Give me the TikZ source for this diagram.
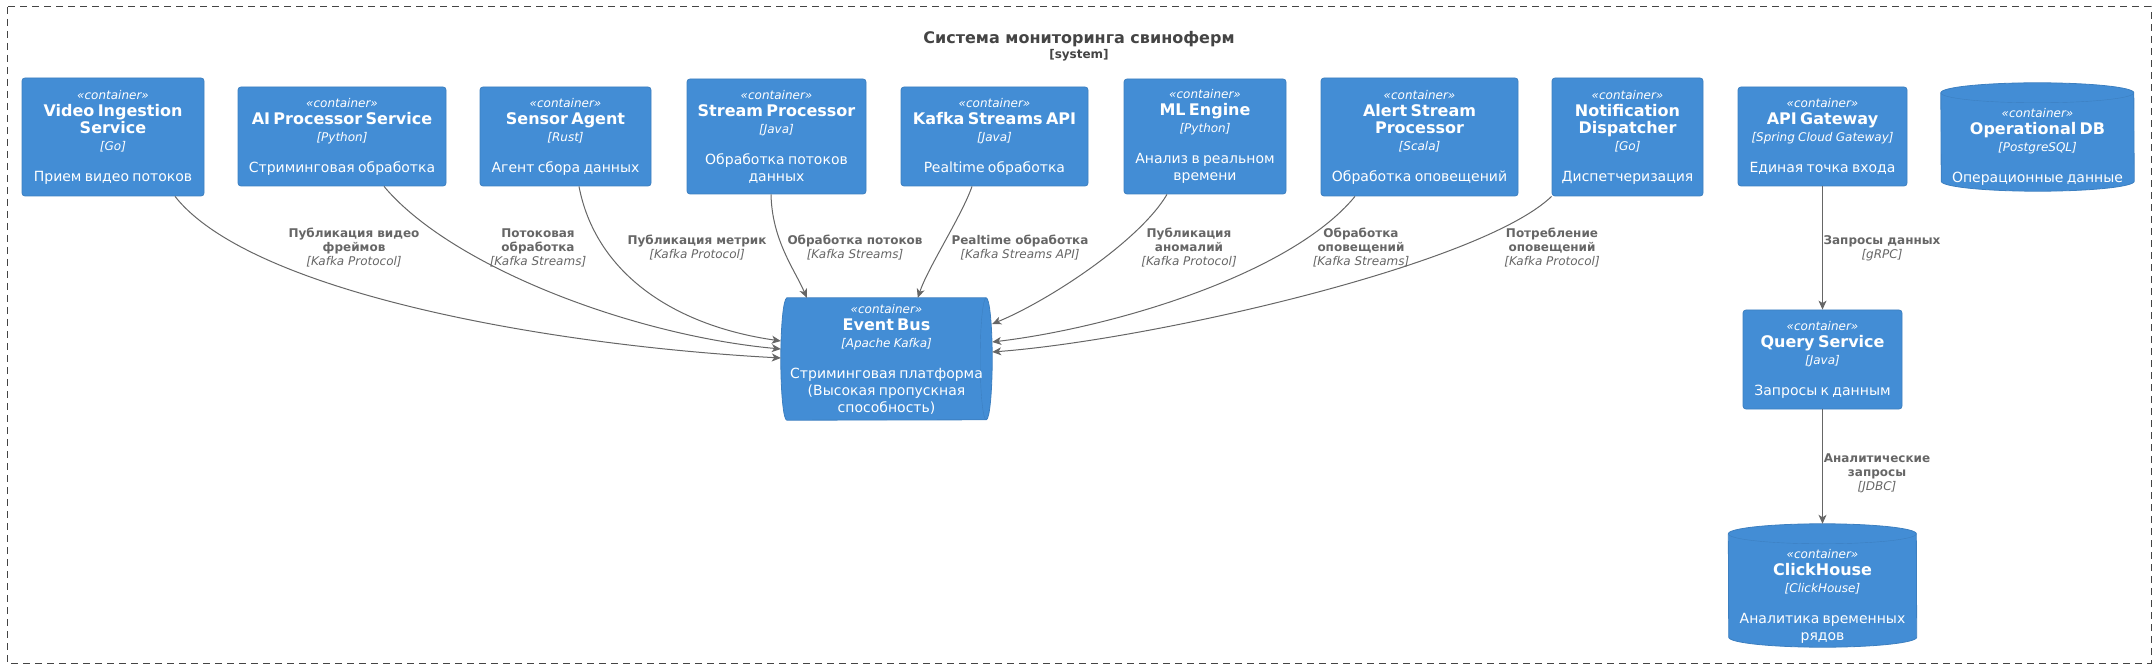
\documentclass[tikz,border=0pt]{standalone}
\usepackage{fontspec}
\setmainfont{DejaVu Sans}
\usetikzlibrary{arrows.meta}
\usetikzlibrary{backgrounds}
\usetikzlibrary{calc}
\usetikzlibrary{positioning}

\definecolor{c4blue}{HTML}{438DD5}
\definecolor{c4line}{HTML}{3C7FC0}
\definecolor{relgray}{HTML}{666666}
\definecolor{bndgray}{HTML}{444444}

% text of one container: title, technology, description
\newcommand{\ctext}[3]{%
  \parindent=0pt
  {\fontsize{12}{14}\selectfont\itshape «container»\par}%
  {\fontsize{16}{17}\selectfont\bfseries #1\par}%
  {\fontsize{12}{17}\selectfont\itshape [#2]\par}%
  \vspace{14pt}%
  {\fontsize{14}{17}\selectfont #3\par}}

\tikzset{
  cbox/.style={align=center, inner sep=0pt, text=white},
  cont/.style={cbox, fill=c4blue, draw=c4line, line width=0.8pt, rounded corners=3pt},
  shapefill/.style={fill=c4blue, draw=c4line, line width=0.8pt},
  rel/.style={draw=relgray, line width=1pt, -{Stealth[length=9pt,width=8pt,inset=2.5pt]}},
  rlabel/.style={align=center, inner sep=0pt, text=relgray, font=\fontsize{12}{14}\selectfont}
}

\begin{document}
\begin{tikzpicture}[x=1pt, y=1pt]
  \useasboundingbox (0,0) rectangle (2155,-668);

  % system boundary
  \draw[bndgray, line width=1pt, dash pattern=on 7pt off 5pt] (7,-7) rectangle (2151,-663);
  \node[inner sep=0pt, text=bndgray, font=\fontsize{16}{19}\selectfont\bfseries] (systitle) at (1079,-39) {Система мониторинга свиноферм};
  \node[inner sep=0pt, text=bndgray, font=\fontsize{12}{14}\selectfont\bfseries, below=2pt of systitle] (systype) {[system]};

  % top row
  \node[cont, text width=182pt, minimum height=118pt] (video) at (113,-137) {\ctext{Video Ingestion\\Service}{Go}{Прием видео потоков}};
  \node[cont, text width=208pt, minimum height=99pt] (aiproc) at (342,-136.5) {\ctext{AI Processor Service}{Python}{Стриминговая обработка}};
  \node[cont, text width=171pt, minimum height=99pt] (sensor) at (565.5,-136.5) {\ctext{Sensor Agent}{Rust}{Агент сбора данных}};
  \node[cont, text width=179pt, minimum height=115pt] (stream) at (776.5,-136.5) {\ctext{Stream Processor}{Java}{Обработка потоков\\данных}};
  \node[cont, text width=187pt, minimum height=99pt] (kstreams) at (994.5,-136.5) {\ctext{Kafka Streams API}{Java}{Pealtime обработка}};
  \node[cont, text width=162pt, minimum height=115pt] (mleng) at (1205,-136.5) {\ctext{ML Engine}{Python}{Анализ в реальном\\времени}};
  \node[cont, text width=197pt, minimum height=118pt] (alert) at (1419.5,-137) {\ctext{Alert Stream\\Processor}{Scala}{Обработка оповещений}};
  \node[cont, text width=151pt, minimum height=118pt] (notify) at (1627.5,-137) {\ctext{Notification\\Dispatcher}{Go}{Диспетчеризация}};
  \node[cont, text width=169pt, minimum height=99pt] (gateway) at (1822.5,-136.5) {\ctext{API Gateway}{Spring Cloud Gateway}{Единая точка входа}};
  \node[cbox, minimum width=193pt, minimum height=108pt] (opdb) at (2037.5,-137) {};
  \node[cbox, text width=193pt] (opdbtext) at ($(opdb.center)+(0,-9.5)$) {\ctext{Operational DB}{PostgreSQL}{Операционные данные}};

  % lower nodes
  \node[cbox, text width=211pt, minimum height=122pt] (evbus) at (886.5,-359) {\ctext{Event Bus}{Apache Kafka}{Стриминговая платформа\\(Высокая пропускная\\способность)}};
  \node[cont, text width=159pt, minimum height=99pt] (query) at (1822.5,-359.5) {\ctext{Query Service}{Java}{Запросы к данным}};
  \node[cbox, minimum width=188pt, minimum height=123pt] (chouse) at (1822.5,-585.5) {};
  \node[cbox, text width=188pt] (chousetext) at ($(chouse.center)+(0,-10.5)$) {\ctext{ClickHouse}{ClickHouse}{Аналитика временных\\рядов}};

  % queue and database shapes
  \begin{scope}[on background layer]
    \path[shapefill] ($(evbus.north west)+(6,0)$) -- ($(evbus.north east)+(-6,0)$)
      arc[start angle=90, end angle=-90, x radius=6, y radius=61]
      -- ($(evbus.south west)+(6,0)$)
      arc[start angle=270, end angle=90, x radius=6, y radius=61] -- cycle;
    \draw[c4line] ($(evbus.north east)+(-6,0)$) arc[start angle=90, end angle=270, x radius=6, y radius=61];

    \path[shapefill] ($(opdb.north west)+(0,-10)$)
      arc[start angle=180, end angle=0, x radius=96.5, y radius=10]
      -- ($(opdb.south east)+(0,10)$)
      arc[start angle=0, end angle=-180, x radius=96.5, y radius=10] -- cycle;
    \draw[c4line] ($(opdb.north west)+(0,-10)$) arc[start angle=180, end angle=360, x radius=96.5, y radius=10];

    \path[shapefill] ($(chouse.north west)+(0,-10)$)
      arc[start angle=180, end angle=0, x radius=94, y radius=10]
      -- ($(chouse.south east)+(0,10)$)
      arc[start angle=0, end angle=-180, x radius=94, y radius=10] -- cycle;
    \draw[c4line] ($(chouse.north west)+(0,-10)$) arc[start angle=180, end angle=360, x radius=94, y radius=10];
  \end{scope}

  % relations into the event bus
  \draw[rel] ($(video.south)+(62,0)$) .. controls +(75,-95) and +(-239,13) .. ($(evbus.west)+(0,1)$);
  \draw[rel] ($(aiproc.south)+(42,0)$) .. controls +(66,-79) and +(-151,14) .. ($(evbus.west)+(0,10)$);
  \draw[rel] ($(sensor.south)+(13.5,0)$) .. controls +(16,-84) and +(-111,16) .. ($(evbus.west)+(0,18)$);
  \draw[rel] ($(stream.south)+(-5.5,0)$) .. controls +(1,-46) and +(-12,28) .. ($(evbus.north west)+(26,0)$);
  \draw[rel] ($(kstreams.south)+(-22.5,0)$) .. controls +(-10,-29) and +(10,30) .. ($(evbus.north west)+(137,0)$);
  \draw[rel] ($(mleng.south)+(-38,0)$) .. controls +(-27,-46) and +(58,24) .. ($(evbus.east)+(0,35)$);
  \draw[rel] ($(alert.south)+(-64.5,0)$) .. controls +(-65,-79) and +(118,14) .. ($(evbus.east)+(0,17)$);
  \draw[rel] (notify.south west) .. controls +(-72,-69) and +(158,12) .. ($(evbus.east)+(0,7)$);

  % query path
  \draw[rel] (gateway.south) -- (query.north);
  \draw[rel] (query.south) -- (chouse.north);

  % relation labels
  \node[rlabel] (lvideo) at (354,-248) {\textbf{Публикация видео}\\\textbf{фреймов}\\\textit{[Kafka Protocol]}};
  \node[rlabel] (laiproc) at (538,-248) {\textbf{Потоковая}\\\textbf{обработка}\\\textit{[Kafka Streams]}};
  \node[rlabel] (lsensor) at (697,-248) {\textbf{Публикация метрик}\\\textit{[Kafka Protocol]}};
  \node[rlabel] (lstream) at (855,-248) {\textbf{Обработка потоков}\\\textit{[Kafka Streams]}};
  \node[rlabel] (lkstreams) at (1020,-248) {\textbf{Pealtime обработка}\\\textit{[Kafka Streams API]}};
  \node[rlabel] (lmleng) at (1189,-248) {\textbf{Публикация}\\\textbf{аномалий}\\\textit{[Kafka Protocol]}};
  \node[rlabel] (lalert) at (1361,-248) {\textbf{Обработка}\\\textbf{оповещений}\\\textit{[Kafka Streams]}};
  \node[rlabel] (lnotify) at (1552,-248) {\textbf{Потребление}\\\textbf{оповещений}\\\textit{[Kafka Protocol]}};
  \node[rlabel] (lgateway) at (1882,-248) {\textbf{Запросы данных}\\\textit{[gRPC]}};
  \node[rlabel] (lquery) at (1877,-473) {\textbf{Аналитические}\\\textbf{запросы}\\\textit{[JDBC]}};
\end{tikzpicture}
\end{document}
